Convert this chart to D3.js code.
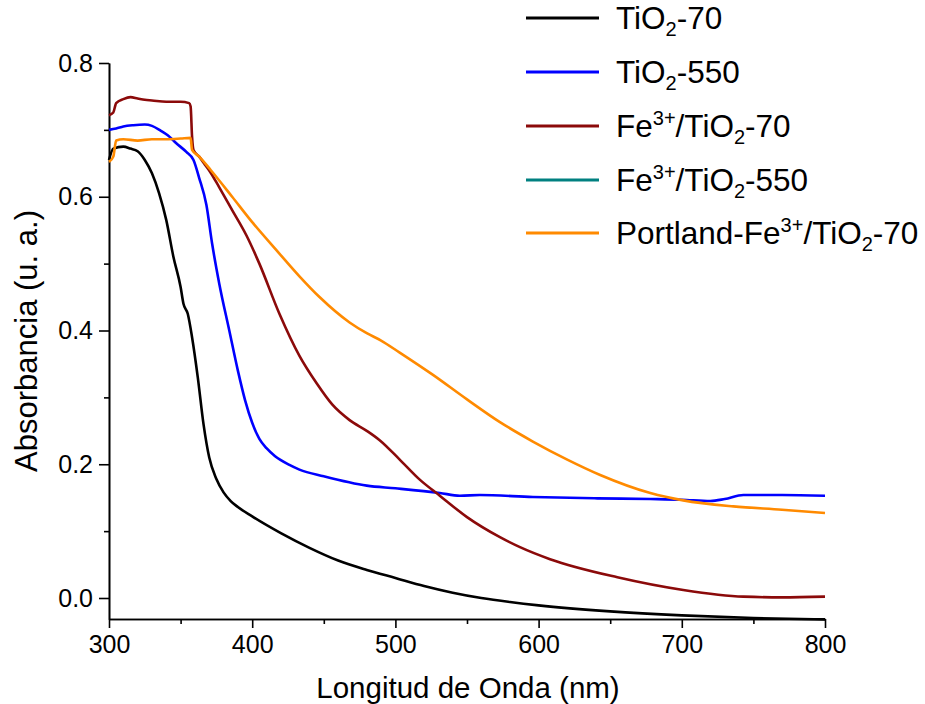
<!DOCTYPE html>
<html>
<head>
<meta charset="utf-8">
<script src="https://cdn.jsdelivr.net/npm/d3@7"></script>
<style>
  html, body { margin: 0; padding: 0; background: #fff; }
  svg { display: block; }
  .axis text { font-family: "Liberation Sans", Arial, sans-serif; font-size: 25px; fill: #000; }
  .axis path, .axis line { stroke: #000; stroke-width: 1.6px; }
  .title { font-family: "Liberation Sans", Arial, sans-serif; fill: #000; }
  .legend text { font-family: "Liberation Sans", Arial, sans-serif; font-size: 31.5px; fill: #000; }
</style>
</head>
<body>
<svg id="chart" width="925" height="704"></svg>
<script>
// wavelength (nm), absorbance (u. a.)
const tio2_70 = [
  [300, 0.655], [303, 0.672], [310, 0.675], [315, 0.672], [320, 0.668], [325, 0.655],
  [330, 0.635], [335, 0.605], [340, 0.565], [345, 0.51], [350, 0.465], [352, 0.44],
  [355, 0.425], [358, 0.39], [362, 0.33], [366, 0.26], [370, 0.21], [375, 0.178],
  [380, 0.158], [385, 0.145], [390, 0.136], [400, 0.122], [420, 0.097], [440, 0.075],
  [460, 0.056], [480, 0.042], [500, 0.030], [520, 0.018], [540, 0.008], [560, 0.000],
  [580, -0.006], [600, -0.011], [650, -0.020], [700, -0.026], [750, -0.030], [800, -0.032]
];

const tio2_550 = [
  [300, 0.700], [305, 0.702], [310, 0.705], [317, 0.707], [325, 0.708], [330, 0.706],
  [336, 0.699], [341, 0.692], [347, 0.680], [354, 0.667], [359, 0.655], [363, 0.628],
  [368, 0.588], [372, 0.530], [377, 0.47], [384, 0.40], [390, 0.34], [395, 0.296],
  [400, 0.262], [405, 0.238], [410, 0.224], [416, 0.212], [426, 0.199], [433, 0.192],
  [450, 0.182], [480, 0.168], [500, 0.164], [531, 0.157], [545, 0.153], [559, 0.154],
  [596, 0.151], [641, 0.149], [678, 0.148], [700, 0.147], [720, 0.145], [730, 0.148],
  [743, 0.154], [770, 0.154], [800, 0.153]
];

const fe_tio2_70 = [
  [300, 0.722], [303, 0.726], [305, 0.740], [310, 0.746], [315, 0.749], [320, 0.747],
  [325, 0.745], [330, 0.744], [340, 0.742], [350, 0.742], [356, 0.740], [357, 0.735],
  [358, 0.690], [359, 0.670], [363, 0.660], [367, 0.648], [371, 0.636], [377, 0.614],
  [386, 0.580], [396, 0.542], [405, 0.500], [419, 0.425], [433, 0.362],
  [445, 0.321], [456, 0.289], [468, 0.266], [480, 0.250], [489, 0.236], [503, 0.207],
  [517, 0.177], [531, 0.153], [550, 0.121], [573, 0.091], [587, 0.076], [608, 0.058],
  [655, 0.031], [701, 0.012], [743, 0.002], [770, 0.001], [800, 0.002]
];

const portland = [
  [300, 0.652], [303, 0.660], [305, 0.684], [310, 0.686], [320, 0.684], [330, 0.686],
  [340, 0.686], [350, 0.687], [357, 0.688], [358, 0.670], [363, 0.660], [371, 0.640],
  [386, 0.600], [400, 0.562], [419, 0.515], [433, 0.481], [447, 0.450], [468, 0.412],
  [480, 0.396], [490, 0.385], [503, 0.367], [526, 0.334], [550, 0.297], [573, 0.263],
  [596, 0.234], [620, 0.207], [643, 0.184], [678, 0.157], [701, 0.146], [736, 0.137],
  [770, 0.132], [800, 0.127]
];

const xTicks = [300, 400, 500, 600, 700, 800];
const xMinor = [350, 450, 550, 650, 750];
const yTicks = [0.0, 0.2, 0.4, 0.6, 0.8];
const yMinor = [0.1, 0.3, 0.5, 0.7];

// legend text pieces: [text, 0 normal / 1 superscript / -1 subscript]
const legendItems = [
  { parts: [["TiO", 0], ["2", -1], ["-70", 0]], color: "#000000" },
  { parts: [["TiO", 0], ["2", -1], ["-550", 0]], color: "#0000ff" },
  { parts: [["Fe", 0], ["3+", 1], ["/TiO", 0], ["2", -1], ["-70", 0]], color: "#8b0a0a" },
  { parts: [["Fe", 0], ["3+", 1], ["/TiO", 0], ["2", -1], ["-550", 0]], color: "#008080" },
  { parts: [["Portland-Fe", 0], ["3+", 1], ["/TiO", 0], ["2", -1], ["-70", 0]], color: "#ff8a00" }
];

const series = [
  { data: tio2_70, color: "#000000" },
  { data: tio2_550, color: "#0000ff" },
  { data: fe_tio2_70, color: "#8b0a0a" },
  { data: portland, color: "#ff8a00" }
];

const svg = d3.select("#chart");

const x = d3.scaleLinear().domain([300, 800]).range([109, 825]);
const y = d3.scaleLinear().domain([-0.0314, 0.8]).range([619, 63]);

// minor ticks first
svg.append("g")
    .attr("class", "axis")
    .attr("transform", "translate(0,619)")
    .call(d3.axisBottom(x).tickValues(xMinor).tickSize(5).tickFormat("").tickSizeOuter(0));

svg.append("g")
    .attr("class", "axis")
    .attr("transform", "translate(109,0)")
    .call(d3.axisLeft(y).tickValues(yMinor).tickSize(5).tickFormat("").tickSizeOuter(0));

svg.append("g")
    .attr("class", "axis")
    .attr("transform", "translate(0,619)")
    .call(d3.axisBottom(x).tickValues(xTicks).tickSize(9).tickPadding(7).tickSizeOuter(0));

svg.append("g")
    .attr("class", "axis")
    .attr("transform", "translate(109,0)")
    .call(d3.axisLeft(y).tickValues(yTicks).tickSize(10).tickPadding(6)
        .tickFormat(d3.format(".1f")).tickSizeOuter(0));

svg.selectAll(".axis .domain").attr("fill", "none");

// curves
const line = d3.line()
    .x(d => x(d[0]))
    .y(d => y(d[1]))
    .curve(d3.curveMonotoneX);

svg.append("g")
    .selectAll("path")
    .data(series)
    .enter()
    .append("path")
    .attr("d", d => line(d.data))
    .attr("fill", "none")
    .attr("stroke", d => d.color)
    .attr("stroke-width", 2.6)
    .attr("stroke-linejoin", "round");

// axis titles
svg.append("text")
    .attr("class", "title")
    .attr("x", 468)
    .attr("y", 698)
    .attr("text-anchor", "middle")
    .attr("font-size", "29.5px")
    .text("Longitud de Onda (nm)");

svg.append("text")
    .attr("class", "title")
    .attr("transform", "translate(37,341) rotate(-90)")
    .attr("text-anchor", "middle")
    .attr("font-size", "31px")
    .text("Absorbancia (u. a.)");

// legend
const legendY = [18, 72, 126, 180, 233];
const lg = svg.append("g").attr("class", "legend");
legendItems.forEach((item, i) => {
    lg.append("line")
        .attr("x1", 526).attr("x2", 599)
        .attr("y1", legendY[i]).attr("y2", legendY[i])
        .attr("stroke", item.color)
        .attr("stroke-width", 2.8);
    const t = lg.append("text")
        .attr("x", 616)
        .attr("y", legendY[i] + 11);
    item.parts.forEach(([s, pos]) => {
        const ts = t.append("tspan").text(s);
        if (pos !== 0) {
            ts.attr("font-size", "20px")
              .attr("baseline-shift", pos > 0 ? "60%" : "-35%");
        }
    });
});
</script>
</body>
</html>
